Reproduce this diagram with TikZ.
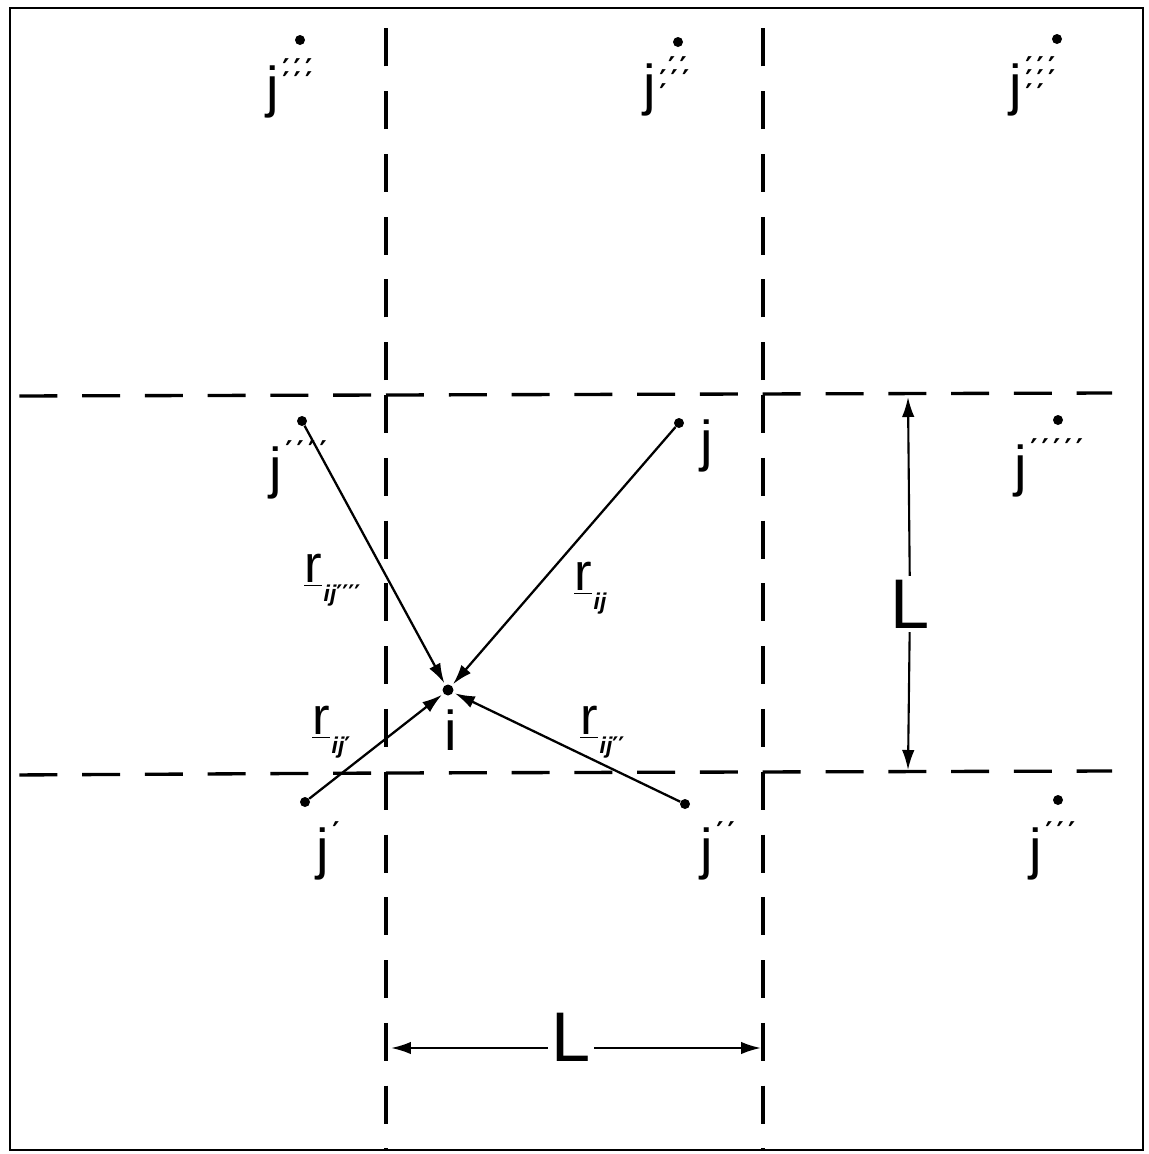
\documentclass[tikz,border=0pt]{standalone}
\usepackage{fontspec}
\setmainfont{Liberation Sans}
\newfontfamily\pfont{DejaVu Sans}
\usetikzlibrary{arrows.meta}
\newcommand\p{′\kern2.4pt}
\newcommand\pr[2]{\raisebox{#1}[0pt][0pt]{\fontsize{15.5}{15}\selectfont\pfont\bfseries #2}}
\newcommand\jlA[1]{j\kern2pt\pr{15pt}{#1}}
\newcommand\jlB[2]{j\kern2pt\rlap{\pr{15.5pt}{#1}}\pr{8pt}{#2}}
\newcommand\jlC[3]{j\kern2pt\rlap{\pr{15.5pt}{#1}}\rlap{\pr{8pt}{#2}}\pr{0.5pt}{#3}}
\newcommand\rl[1]{\underline{r}\kern1pt\raisebox{-0.35em}{\fontsize{13}{13}\selectfont\bfseries\itshape #1}}
\newcommand\primes[1]{{\pfont\upshape #1}}
\begin{document}
\begin{tikzpicture}[x=0.02cm,y=-0.02cm,
  pt/.style={circle,fill,inner sep=0pt,minimum size=0.2cm},
  jlab/.style={anchor=base west,inner sep=0pt,font=\fontsize{32}{34}\selectfont},
  rlab/.style={anchor=west,inner sep=0pt,font=\fontsize{30}{32}\selectfont},
  Llab/.style={inner sep=2pt,font=\fontsize{40}{42}\selectfont},
  grid/.style={line width=1.9pt,dash pattern=on 0.76cm off 0.496cm},
  gridback/.style={grid,dash phase=0.96cm},
  vec/.style={line width=1.3pt,-{Latex[length=0.4cm,width=0.25cm]},shorten >=1pt},
  dim/.style={line width=1.2pt,-{Latex[length=0.4cm,width=0.25cm]}}]
\useasboundingbox (0,0) rectangle (1149,1154);
% frame
\draw[line width=1.4pt] (10,8) rectangle (1143,1150);
% dashed grid
\draw[grid] (386,395) -- (386,1150);
\draw[gridback] (386,395) -- (386,8);
\draw[grid] (763,395) -- (763,1150);
\draw[gridback] (763,395) -- (763,8);
\draw[grid] (386,395) -- (1112,393);
\draw[gridback] (386,395) -- (10,396);
\draw[grid] (386,773) -- (1112,771);
\draw[gridback] (386,773) -- (10,775);
% points
\node[pt] (p6) at (300,40) {};
\node[pt] (p7) at (678,42) {};
\node[pt] (p8) at (1057,39) {};
\node[pt] (p4) at (302,421) {};
\node[pt] (pj) at (679,423) {};
\node[pt] (p5) at (1058,420) {};
\node[pt] (p1) at (305,802) {};
\node[pt] (p2) at (685,804) {};
\node[pt] (p3) at (1058,800) {};
\node[pt,minimum size=0.22cm] (pi) at (448,690) {};
% labels
\node[jlab] (l6) at (266,106) {\jlB{\p\p\p}{\p\p\p}};
\node[jlab] (l7) at (643,104) {\jlC{\kern5pt\p\p}{\p\p\p}{\p}};
\node[jlab] (l8) at (1009,104) {\jlC{\p\p\p}{\p\p\p}{\p\p}};
\node[jlab] (l4) at (269,487) {\jlA{\p\p\p\p}};
\node[jlab] (lj) at (700,460) {j};
\node[jlab] (l5) at (1014,485) {\jlA{\p\p\p\p\p}};
\node[jlab] (l1) at (316,868) {\jlA{\p}};
\node[jlab] (l2) at (700,868) {\jlA{\p\p}};
\node[jlab] (l3) at (1029,868) {\jlA{\p\p\p}};
\node[jlab] (li) at (444,750) {i};
% vectors
\draw[vec] (p4) -- (pi);
\draw[vec] (pj) -- (pi);
\draw[vec] (p1) -- (pi);
\draw[vec] (p2) -- (pi);
\node[rlab] (r4) at (304,580) {\rl{ij\primes{′′′′}}};
\node[rlab] (rj) at (574,588) {\rl{ij}};
\node[rlab] (r1) at (312,732) {\rl{ij\primes{′}}};
\node[rlab] (r2) at (580,732) {\rl{ij\primes{′′}}};
% dimensions
\coordinate (vt) at (908,397);
\coordinate (vb) at (908,770);
\node[Llab] (Lv) at (910,604) {L};
\draw[dim] (Lv) -- (vt);
\draw[dim] (Lv) -- (vb);
\coordinate (hl) at (391,1048);
\coordinate (hr) at (761,1048);
\node[Llab] (Lh) at (571,1037) {L};
\draw[dim] (Lh.west |- hl) -- (hl);
\draw[dim] (Lh.east |- hr) -- (hr);
\end{tikzpicture}
\end{document}
